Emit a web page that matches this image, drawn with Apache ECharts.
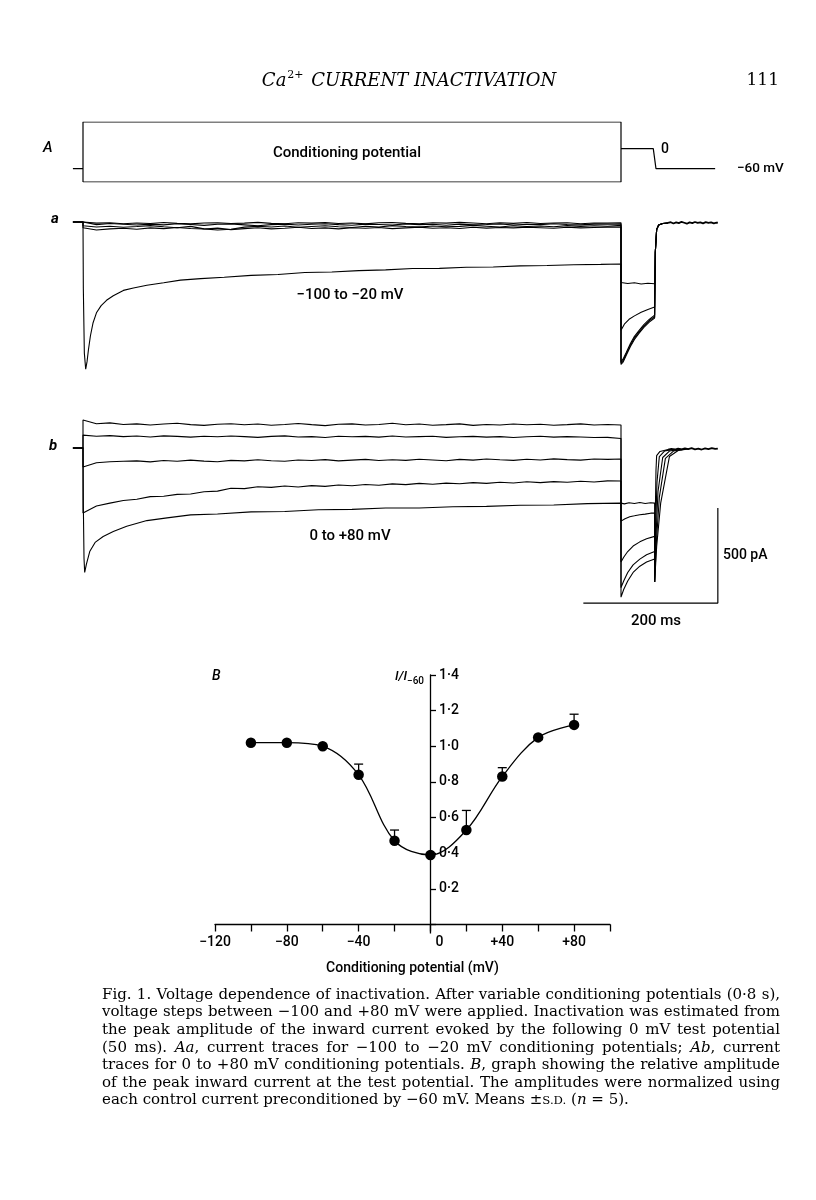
<!DOCTYPE html>
<html><head><meta charset="utf-8">
<script src="https://cdn.jsdelivr.net/npm/echarts@6/dist/echarts.min.js"></script>
<style>html,body{margin:0;padding:0;background:#fff}#c{width:816px;height:1200px}</style>
</head><body><div id="c"></div>
<script>
// ---------------- DATA ----------------
// Protocol (A): membrane potential in mV vs time in ms
const protoHold = [[-15,-60],[0,-60]];
const protoBox = [[0,-100],[0,80],[800,80],[800,-100],[0,-100]];
const protoTest = [[800,0],[848,0],[852,-60],[940,-60]];

// Sample times (ms) for the flat/slow conditioning traces
const tGrid = [0,20,40,60,80,100,120,140,160,180,200,220,240,260,280,300,320,340,360,380,400,420,440,460,480,500,520,540,560,580,600,620,640,660,680,700,720,740,760,780,800];

// Aa: currents (pA) during conditioning, -100 ... -40 mV
const aM100Cond = [0,-6,-4,-9,-5,-8,-3,-7,-10,-5,-4,-8,-6,-2,-7,-9,-4,-6,-3,-8,-5,-10,-4,-3,-7,-9,-4,-6,-2,-5,-9,-4,-7,-3,-8,-5,-4,-9,-5,-6,-4];
const aM80Cond = [-10,-14,-8,-12,-16,-11,-15,-9,-13,-18,-12,-10,-15,-20,-14,-11,-16,-12,-9,-14,-17,-11,-13,-16,-10,-14,-12,-17,-11,-15,-13,-10,-16,-12,-14,-9,-13,-15,-11,-12,-10];
const aM60Cond = [-20,-26,-22,-28,-24,-19,-25,-30,-23,-36,-42,-38,-27,-22,-26,-21,-28,-24,-20,-25,-29,-22,-26,-19,-24,-27,-21,-25,-23,-18,-22,-26,-20,-24,-21,-25,-19,-23,-20,-22,-18];
const aM40Cond = [-30,-42,-36,-33,-38,-31,-35,-29,-34,-37,-32,-40,-35,-30,-36,-33,-28,-34,-31,-36,-30,-33,-29,-35,-31,-27,-33,-30,-34,-28,-32,-29,-31,-27,-30,-33,-28,-31,-29,-27,-26];
// -20 mV conditioning trace [ms, pA]
const aM20Cond = [[0,0],[0.5,-350],[2,-690],[4,-775],[6,-735],[8,-675],[11,-600],[15,-530],[20,-478],[27,-440],[35,-412],[45,-388],[60,-360],[75,-347],[95,-333],[120,-320],[145,-306],[175,-298],[210,-291],[250,-281],[290,-276],[330,-266],[370,-263],[410,-256],[450,-252],[490,-245],[530,-244],[570,-238],[610,-237],[650,-231],[690,-229],[730,-225],[770,-223],[800,-221]];
// Aa: test pulse (0 mV) currents
const aM100Test = [[800,-750],[803,-738],[808,-700],[814,-655],[820,-618],[827,-585],[834,-555],[842,-527],[850,-505]];
const aM80Test = [[800,-742],[803,-730],[808,-692],[814,-648],[820,-610],[827,-578],[834,-548],[842,-520],[850,-498]];
const aM60Test = [[800,-735],[803,-722],[808,-685],[814,-640],[820,-602],[827,-570],[834,-540],[842,-513],[850,-490]];
const aM40Test = [[800,-570],[805,-538],[812,-512],[820,-494],[830,-475],[840,-460],[850,-447]];
const aM20Test = [[800,-318],[810,-324],[820,-320],[830,-326],[840,-322],[850,-325]];
const aTail = [[851,-160],[853,-40],[856,-16],[862,-8],[870,-5]];
const aPost = [[870,-5],[874,-1],[878,-8],[882,-2],[886,-6],[890,1],[894,-4],[898,-9],[902,-2],[906,-6],[910,0],[914,-5],[918,-2],[922,-7],[926,-1],[930,-5],[934,-2],[938,-7],[942,-3],[944,-4]];

// Ab: conditioning 0 ... +80 mV
const b0Cond = [[0,0],[0.5,-300],[1.5,-580],[2.5,-655],[5,-612],[10,-545],[18,-497],[30,-466],[45,-440],[65,-412],[95,-382],[125,-368],[160,-352],[200,-347],[250,-336],[300,-334],[350,-325],[400,-323],[450,-316],[500,-316],[550,-309],[600,-307],[650,-301],[700,-300],[750,-293],[800,-290]];
const b20Cond = [-342,-305,-290,-276,-270,-256,-254,-244,-242,-230,-227,-212,-214,-204,-207,-200,-205,-198,-202,-195,-199,-192,-196,-189,-193,-186,-191,-185,-188,-182,-186,-180,-184,-178,-182,-177,-180,-175,-179,-173,-174];
const b40Cond = [-100,-78,-72,-70,-68,-73,-66,-70,-64,-69,-72,-65,-68,-62,-67,-70,-63,-66,-61,-68,-64,-60,-66,-62,-65,-59,-63,-67,-60,-64,-58,-62,-65,-59,-63,-57,-61,-64,-58,-60,-58];
const b60Cond = [68,62,65,60,63,58,64,61,57,62,59,63,60,56,61,64,58,60,55,62,59,61,57,63,58,60,62,56,59,61,57,60,55,59,62,57,60,58,55,56,50];
const b80Cond = [147,128,132,124,127,121,126,130,123,119,125,128,122,126,120,124,129,123,118,125,127,121,124,130,122,126,120,123,127,119,124,121,126,122,125,120,123,127,121,124,121];
const b0Test = [[805,-294],[812,-288],[820,-292],[828,-287],[836,-292],[844,-288],[850,-290]];
const b20Test = [[800,-385],[806,-372],[813,-362],[820,-357],[828,-351],[836,-348],[844,-343],[850,-342]];
const b40Test = [[800,-600],[804,-575],[810,-545],[818,-516],[828,-494],[838,-478],[850,-465]];
const b60Test = [[800,-735],[804,-700],[810,-655],[818,-615],[828,-585],[838,-562],[850,-545]];
const b80Test = [[800,-785],[804,-745],[810,-700],[818,-655],[828,-622],[838,-600],[850,-584]];
const b0Tail = [[850,-705],[851,-350],[852,-120],[853,-40],[858,-18],[870,-8]];
const b20Tail = [[850,-705],[851.5,-420],[853.5,-180],[857,-45],[865,-15],[880,-6]];
const b40Tail = [[850,-705],[852,-470],[855,-230],[862,-50],[872,-16],[890,-6]];
const b60Tail = [[850,-705],[852.5,-500],[857,-260],[866,-55],[878,-16],[895,-6]];
const b80Tail = [[850,-705],[853,-520],[859,-290],[872,-45],[885,-13],[900,-5]];
const bPost = [[870,-8],[875,-4],[880,-9],[885,-3],[890,-7],[895,-2],[900,-6],[905,-1],[910,-7],[915,-3],[920,-8],[925,-2],[930,-6],[935,-1],[940,-5],[944,-3]];
// Scale bars: 200 ms, 500 pA
const scaleBar = [[744,-816],[944,-816],[944,-316]];

// B: relative peak current vs conditioning potential
const ivVolt = [-100,-80,-60,-40,-20,0,20,40,60,80];
const ivRel = [1.02,1.02,1.0,0.84,0.47,0.39,0.53,0.83,1.05,1.12];
const ivSD = [0,0,0,0.06,0.06,0,0.11,0.05,0,0.06];
const xTicks = [-120,-80,-40,0,40,80];
const yTicks = [0.2,0.4,0.6,0.8,1.0,1.2,1.4];

const captionLines = [
  "Fig. 1. Voltage dependence of inactivation. After variable conditioning potentials (0·8 s),",
  "voltage steps between −100 and +80 mV were applied. Inactivation was estimated from",
  "the peak amplitude of the inward current evoked by the following 0 mV test potential",
  "(50 ms). {i|Aa}, current traces for −100 to −20 mV conditioning potentials; {i|Ab}, current",
  "traces for 0 to +80 mV conditioning potentials. {i|B}, graph showing the relative amplitude",
  "of the peak inward current at the test potential. The amplitudes were normalized using",
  "each control current preconditioned by −60 mV. Means ±{sc|S.D.} ({i|n} = 5)."
];

// ---------------- LAYOUT ----------------
const PX_MS = 0.6725, X0 = 83, TMIN = -20, TMAX = 960;
const GL = X0 + TMIN * PX_MS, GW = (TMAX - TMIN) * PX_MS;
const SANS = 'Roboto';
const SERIF = 'DejaVu Serif';
const INK = '#000';

function zipT(vals){ const o=[]; for(let i=0;i<Math.min(vals.length,tGrid.length);i++) o.push([tGrid[i], vals[i]]); return o; }
function build(cond, test, tail){ return [[-15,0],[0,0]].concat(cond, test, tail); }

function traceSeries(data, gi, w){
  return {type:'line', xAxisIndex:gi, yAxisIndex:gi, data, showSymbol:false, symbol:'none',
    lineStyle:{color:'#000', width:w||1.1}, silent:true, animation:false};
}

const series = [
  traceSeries(protoHold,0,1.2), traceSeries(protoBox,0,1.2), traceSeries(protoTest,0,1.2),
  traceSeries(build(zipT(aM100Cond), aM100Test, aTail),1),
  traceSeries(build(zipT(aM80Cond), aM80Test, aTail),1),
  traceSeries(build(zipT(aM60Cond), aM60Test, aTail),1),
  traceSeries(build(zipT(aM40Cond), aM40Test, aTail),1),
  traceSeries(build(aM20Cond, aM20Test, aTail),1),
  traceSeries(aPost,1,1.8),
  traceSeries(build(b0Cond, b0Test, b0Tail),2),
  traceSeries(build(zipT(b20Cond), b20Test, b20Tail),2),
  traceSeries(build(zipT(b40Cond), b40Test, b40Tail),2),
  traceSeries(build(zipT(b60Cond), b60Test, b60Tail),2),
  traceSeries(build(zipT(b80Cond), b80Test, b80Tail),2),
  traceSeries(bPost,2,1.8),
  traceSeries(scaleBar,2,1.2),
  // small continuation of the ordinate below the abscissa
  {type:'line', xAxisIndex:3, yAxisIndex:3, data:[[0,0],[0,-0.05]], clip:false, showSymbol:false, symbol:'none',
    lineStyle:{color:'#000', width:1.3}, silent:true},
  {type:'line', xAxisIndex:3, yAxisIndex:3, data: ivVolt.map((v,i)=>[v, ivRel[i]]), smooth:0.35,
    showSymbol:false, symbol:'none', lineStyle:{color:'#000', width:1.3}, z:2},
  {type:'custom', xAxisIndex:3, yAxisIndex:3, data: ivVolt.map((v,i)=>[v, ivRel[i], ivSD[i]]),
    encode:{x:0,y:1}, z:3,
    renderItem(params, api){
      const x=api.value(0), y=api.value(1), e=api.value(2);
      if(!e) return {type:'group', children:[]};
      const p0=api.coord([x,y]), p1=api.coord([x,y+e]);
      return {type:'group', children:[
        {type:'line', shape:{x1:p0[0],y1:p0[1],x2:p1[0],y2:p1[1]}, style:{stroke:'#000',lineWidth:1.3}},
        {type:'line', shape:{x1:p1[0]-4.5,y1:p1[1],x2:p1[0]+4.5,y2:p1[1]}, style:{stroke:'#000',lineWidth:1.3}}
      ]};
    }},
  {type:'scatter', xAxisIndex:3, yAxisIndex:3, data: ivVolt.map((v,i)=>[v, ivRel[i]]),
    symbol:'circle', symbolSize:10.5, itemStyle:{color:'#000', opacity:1}, z:4}
];

const hiddenX = gi => ({gridIndex:gi, type:'value', min:TMIN, max:TMAX, show:false});
const labelFont = {fontFamily:SANS, fontSize:14, fontWeight:500, color:INK};

const option = {
  animation:false,
  backgroundColor:'#fff',
  grid:[
    {left:GL, width:GW, top:122, height:60},
    {left:GL, width:GW, top:203, height:171},
    {left:GL, width:GW, top:410, height:199.5},
    {left:215, width:395, top:675, height:249.5},
    {left:430, width:180, top:675, height:249.5}
  ],
  xAxis:[ hiddenX(0), hiddenX(1), hiddenX(2),
    {gridIndex:3, type:'value', min:-120, max:100, interval:20,
     axisLine:{onZero:false, lineStyle:{color:'#000', width:1.3}},
     axisTick:{length:7, lineStyle:{color:'#000', width:1.3}},
     splitLine:{show:false},
     axisLabel:Object.assign({}, labelFont, {margin:11,
       formatter:v=> xTicks.indexOf(v)<0 ? '' : (v===0 ? '{z|0}' : (v>0 ? '+'+v : '−'+Math.abs(v))),
       rich:{z:Object.assign({}, labelFont, {padding:[0,0,0,18]})}}),
     name:'Conditioning potential (mV)', nameLocation:'middle', nameGap:37,
     nameTextStyle:Object.assign({}, labelFont)},
    {gridIndex:4, type:'value', min:0, max:1, show:false}
  ],
  yAxis:[
    {gridIndex:0, type:'value', min:-100, max:80, show:false},
    {gridIndex:1, type:'value', min:-800, max:100, show:false},
    {gridIndex:2, type:'value', min:-850, max:200, show:false},
    {gridIndex:3, type:'value', min:0, max:1.4, interval:0.2, show:false},
    {gridIndex:4, type:'value', min:0, max:1.4, interval:0.2, position:'left',
     axisLine:{show:true, onZero:false, lineStyle:{color:'#000', width:1.3}},
     axisTick:{show:true, inside:true, length:6, lineStyle:{color:'#000', width:1.3}},
     splitLine:{show:false},
     axisLabel:Object.assign({}, labelFont, {inside:true, margin:9,
       formatter:v=>{ const m = yTicks.find(t=>Math.abs(t-v)<1e-6); return m===undefined ? '' : m.toFixed(1).replace('.', '·'); }})}
  ],
  series,
  graphic:[]
};

// ---------------- TEXT ----------------
const G = option.graphic;
function txt(x,y,text,opt){
  G.push({type:'text', x, y, silent:true, style:Object.assign({text, fill:INK, fontFamily:SANS, fontSize:15, fontWeight:500,
    align:'left', verticalAlign:'middle'}, opt||{})});
}
// running head
G.push({type:'text', x:409, y:81, silent:true, style:{text:'{it|Ca}{sup|2+}{it| CURRENT INACTIVATION}', align:'center', verticalAlign:'middle', fill:INK,
  rich:{it:{fontFamily:SERIF, fontStyle:'italic', fontSize:18, fill:INK, lineHeight:22},
        sup:{fontFamily:SERIF, fontSize:11, fill:INK, verticalAlign:'top', lineHeight:22, padding:[0,2,0,1]}}}});
txt(779,81,'111',{fontFamily:SERIF, fontSize:17, fontWeight:'normal', align:'right'});
// panel A
txt(43,148,'A',{fontStyle:'italic', fontSize:15});
txt(347,153,'Conditioning potential',{align:'center'});
txt(661,149,'0',{fontSize:14});
txt(737,169,'−60 mV',{fontSize:13.5});
txt(51,219,'a',{fontStyle:'italic', fontSize:15, fontWeight:'bold'});
txt(49,446,'b',{fontStyle:'italic', fontSize:15, fontWeight:'bold'});
txt(350,295,'−100 to −20 mV',{align:'center'});
txt(350,536,'0 to +80 mV',{align:'center'});
txt(723,555,'500 pA',{fontSize:14});
txt(656,621,'200 ms',{align:'center'});
// panel B
txt(212,676,'B',{fontStyle:'italic', fontSize:14});
G.push({type:'text', x:424, y:677, silent:true, style:{text:'{it|I/I}{sub|−60}', align:'right', verticalAlign:'middle', fill:INK,
  rich:{it:{fontFamily:SANS, fontStyle:'italic', fontWeight:500, fontSize:13, fill:INK, lineHeight:18},
        sub:{fontFamily:SANS, fontWeight:500, fontSize:10, fill:INK, verticalAlign:'bottom', lineHeight:18}}}});

// caption (justified, word by word)
const CAP_L = 102, CAP_R = 780, CAP_TOP = 995, CAP_LH = 17.6;
const mctx = document.createElement('canvas').getContext('2d');
function segs(word){ const out=[]; const re=/\{(\w+)\|([^}]*)\}|([^{]+)/g; let m;
  while((m=re.exec(word))){ if(m[1]) out.push({s:m[1],t:m[2]}); else out.push({s:'n',t:m[3]}); } return out; }
function richFor(fs){ return {
  n:{fontFamily:SERIF, fontSize:fs, fill:'#000'},
  i:{fontFamily:SERIF, fontSize:fs, fontStyle:'italic', fill:'#000'},
  sc:{fontFamily:SERIF, fontSize:fs*0.78, fill:'#000'} }; }
function wWidth(word, rich){ let w=0; for(const sg of segs(word)){ const st=rich[sg.s];
  mctx.font=(st.fontStyle||'normal')+' '+st.fontSize+'px "'+SERIF+'"'; w+=mctx.measureText(sg.t).width; } return w; }
// pick a font size so the widest justified line has nearly normal word spacing
let CAP_FS = 13;
{
  const r = richFor(13);
  mctx.font = '13px "'+SERIF+'"'; const sp = mctx.measureText(' ').width;
  let maxW = 0;
  captionLines.slice(0,-1).forEach(l=>{ const ws=l.split(' '); const w=ws.reduce((a,x)=>a+wWidth(x,r),0)+sp*(ws.length-1); maxW=Math.max(maxW,w); });
  CAP_FS = 13 * (CAP_R-CAP_L-4) / maxW;
}
const capRich = richFor(CAP_FS);
captionLines.forEach((line, li)=>{
  const words=line.split(' '); const ws=words.map(w=>wWidth(w,capRich)); const tot=ws.reduce((a,b)=>a+b,0);
  const last = li===captionLines.length-1;
  mctx.font = CAP_FS+'px "'+SERIF+'"'; const sp = mctx.measureText(' ').width;
  const gap = last ? sp : (CAP_R-CAP_L-tot)/(words.length-1);
  let x=CAP_L; const y=CAP_TOP+li*CAP_LH;
  words.forEach((w,k)=>{
    const rt = segs(w).map(sg=>'{'+sg.s+'|'+sg.t+'}').join('');
    G.push({type:'text', x, y, silent:true, style:{text:rt, align:'left', verticalAlign:'middle', rich:capRich, fill:'#000'}});
    x += ws[k] + gap;
  });
});

const chart = echarts.init(document.getElementById('c'), null, {renderer:'canvas'});
chart.setOption(option);
</script></body></html>
